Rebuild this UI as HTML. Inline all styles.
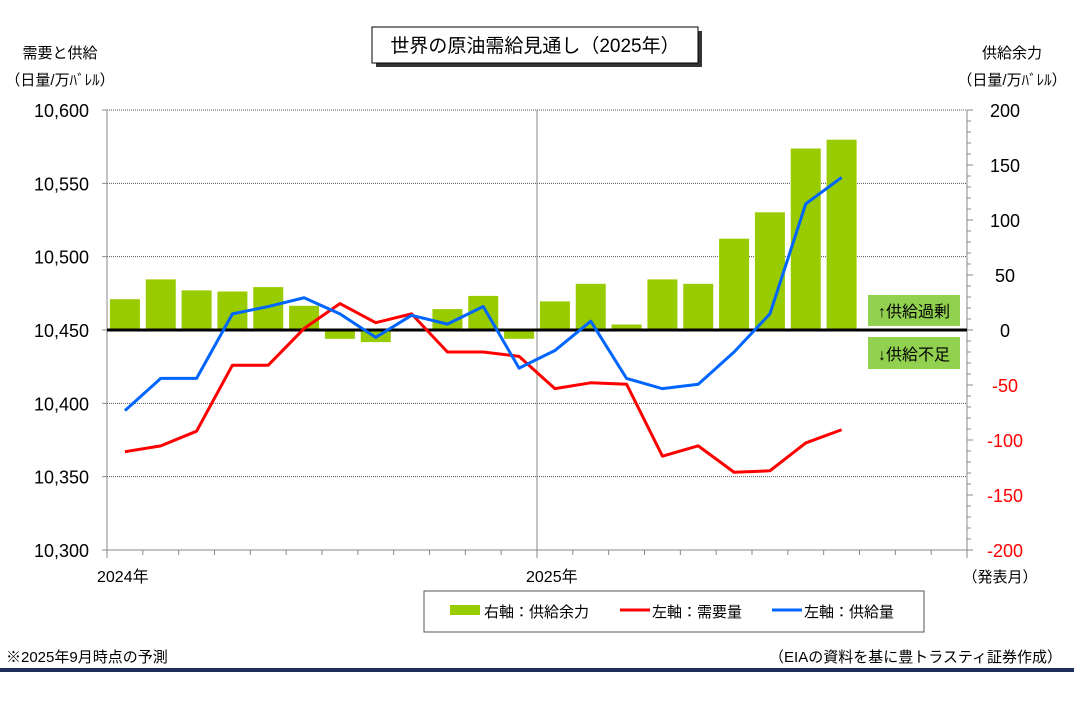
<!DOCTYPE html>
<html><head><meta charset="utf-8"><style>
body{margin:0;background:#fff;font-family:"Liberation Sans","Noto Sans CJK JP",sans-serif;}
svg text{font-family:"Liberation Sans","Noto Sans CJK JP",sans-serif;}
</style></head><body>
<svg id="c" width="1074" height="707" xmlns="http://www.w3.org/2000/svg"></svg>
<script>
const months = ["2024-01","2024-02","2024-03","2024-04","2024-05","2024-06","2024-07","2024-08","2024-09","2024-10","2024-11","2024-12","2025-01","2025-02","2025-03","2025-04","2025-05","2025-06","2025-07","2025-08","2025-09"];
const surplus = [28,46,36,35,39,22,-8,-11,1,19,31,-8,26,42,5,46,42,83,107,165,173];
const demand = [10367,10371,10381,10426,10426,10451,10468,10455,10461,10435,10435,10432,10410,10414,10413,10364,10371,10353,10354,10373,10382];
const supply = [10395,10417,10417,10461,10466,10472,10461,10445,10460,10454,10466,10424,10436,10456,10417,10410,10413,10435,10461,10536,10554];
const leftTicks = [10300,10350,10400,10450,10500,10550,10600];
const rightTicks = [-200,-150,-100,-50,0,50,100,150,200];

const NS="http://www.w3.org/2000/svg", svg=document.getElementById('c');
const X0=107,X1=967,Y0=110,Y1=550,slot=(X1-X0)/24;
const xm=i=>X0+slot*(i+0.5);
const yl=v=>Y1-(v-10300)/300*(Y1-Y0);
const yr=v=>Y1-(v+200)/400*(Y1-Y0);
function el(t,a,txt){const e=document.createElementNS(NS,t);for(const k in a)e.setAttribute(k,a[k]);if(txt!=null)e.textContent=txt;svg.appendChild(e);return e;}

// grid
leftTicks.forEach(v=>{if(v===10300||v===10450)return;
 const g=el('line',{x1:X0,x2:X1,y1:yl(v),y2:yl(v),stroke:'#555','stroke-dasharray':'1,1','stroke-width':1});
 });
el('line',{x1:537,x2:537,y1:Y0,y2:Y1,stroke:'#888','stroke-width':1,});
// bars
surplus.forEach((v,i)=>{const w=30,y=Math.min(yr(v),yr(0)),h=Math.abs(yr(v)-yr(0));
 const b=el('rect',{x:xm(i)-w/2,y:y,width:w,height:h,fill:'#99cc00'});
 });
// axes
el('line',{x1:X0,x2:X0,y1:Y0,y2:Y1,stroke:'#888',});
el('line',{x1:X1,x2:X1,y1:Y0,y2:Y1,stroke:'#888',});
el('line',{x1:X0,x2:X1,y1:Y1,y2:Y1,stroke:'#888',});
for(let i=0;i<=24;i++){el('line',{x1:X0+slot*i,x2:X0+slot*i,y1:Y1,y2:Y1+(i%12===0?8:5),stroke:'#888',});}
leftTicks.forEach(v=>{el('line',{x1:X0-5,x2:X0,y1:yl(v),y2:yl(v),stroke:'#888',});
 const t=el('text',{x:X0-18,y:yl(v)+7,'text-anchor':'end','font-size':18,fill:'#000'},v.toLocaleString('en-US'));
 });
for(let v=-200;v<=200;v+=10){el('line',{x1:X1,x2:X1+(v%50===0?6:4),y1:yr(v),y2:yr(v),stroke:'#888',});}
rightTicks.forEach(v=>{const t=el('text',{x:1005,y:yr(v)+7,'text-anchor':'middle','font-size':18,fill:v<0?'#ff0000':'#000'},String(v));
 });
el('line',{x1:X0,x2:X1,y1:yr(0),y2:yr(0),stroke:'#000','stroke-width':3,});
// lines
function line(arr,color,name){const p=el('polyline',{points:arr.map((v,i)=>xm(i)+','+yl(v)).join(' '),fill:'none',stroke:color,'stroke-width':3,'stroke-linejoin':'round'});
 }
line(demand,'#ff0000','demand-line');line(supply,'#0066ff','supply-line');
// texts
const T=(x,y,s,sz,anchor,name,col)=>el('text',{x:x,y:y,'font-size':sz,'text-anchor':anchor||'start',fill:col||'#000',},s);
T(60,58,'需要と供給',15,'middle','left-axis-title');
T(60,85,'（日量/万ﾊﾞﾚﾙ）',15,'middle','left-axis-unit');
T(1012,58,'供給余力',15,'middle','right-axis-title');
T(1012,85,'（日量/万ﾊﾞﾚﾙ）',15,'middle','right-axis-unit');
T(97,582,'2024年',16,'start','x-label-2024');
T(526,582,'2025年',16,'start','x-label-2025');
T(1000,582,'（発表月）',15,'middle','x-axis-unit');
el('rect',{x:376,y:31,width:326,height:36,fill:'#333',});
el('rect',{x:372,y:27,width:326,height:36,fill:'#fff',stroke:'#000','stroke-width':1,});
T(535,52,'世界の原油需給見通し（2025年）',19,'middle','chart-title');
el('rect',{x:868,y:295,width:92,height:31,fill:'#92d050',});
T(914,317,'↑供給過剰',16,'middle','surplus-label');
el('rect',{x:868,y:337,width:92,height:32,fill:'#92d050',});
T(914,360,'↓供給不足',16,'middle','deficit-label');
el('rect',{x:424,y:591,width:500,height:41,fill:'#fff',stroke:'#555',});
el('rect',{x:450,y:605,width:30,height:10,fill:'#99cc00',});
T(484,617,'右軸：供給余力',15,'start','legend-entry-surplus');
el('line',{x1:620,x2:650,y1:610,y2:610,stroke:'#ff0000','stroke-width':3,});
T(652,617,'左軸：需要量',15,'start','legend-entry-demand');
el('line',{x1:772,x2:802,y1:610,y2:610,stroke:'#0066ff','stroke-width':3,});
T(804,617,'左軸：供給量',15,'start','legend-entry-supply');
T(6,662,'※2025年9月時点の予測',15,'start','footnote');
T(1062,662,'（EIAの資料を基に豊トラスティ証券作成）',15,'end','source-note');
el('rect',{x:0,y:668,width:1074,height:4,fill:'#1f2d5c',});
</script>
</body></html>
